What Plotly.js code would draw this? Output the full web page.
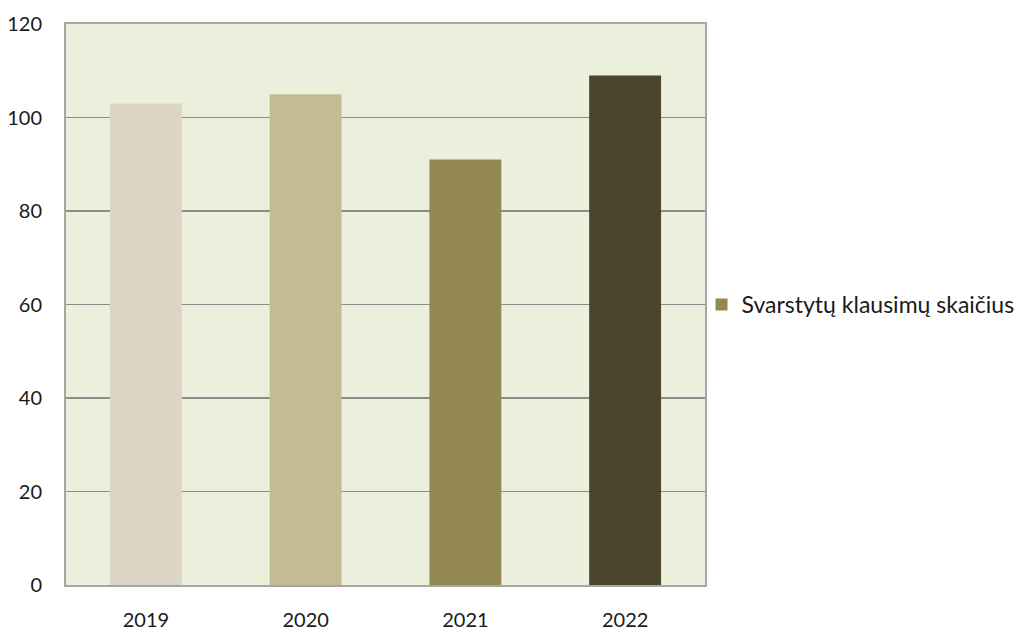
<!DOCTYPE html>
<html><head><meta charset="utf-8">
<script src="https://cdn.plot.ly/plotly-3.0.1.min.js"></script>
<style>body{margin:0;background:#fff}#c{width:1031px;height:633px}</style>
</head><body><div id="c"></div>
<script>
const years = ['2019', '2020', '2021', '2022'];
const values = [103, 105, 91, 109];
const barColors = ['#ddd5c3', '#c4bb94', '#938950', '#4a452c'];
const seriesName = 'Svarstytų klausimų skaičius';
const legendColor = '#938950';
const yTicks = [0, 20, 40, 60, 80, 100, 120];

const yFont = {family: 'Lato, sans-serif', size: 20, color: '#1a1a1a'};
const xFont = {family: 'Lato, sans-serif', size: 20, color: '#1a1a1a'};

const traces = [
  {type: 'bar', x: years, y: values, marker: {color: barColors}, width: 0.45, showlegend: false, hoverinfo: 'x+y'},
  {type: 'bar', x: [years[0]], y: [null], marker: {color: legendColor}, name: seriesName, showlegend: true}
];

const layout = {
  width: 1031, height: 633,
  margin: {l: 66, r: 325, t: 24, b: 48},
  paper_bgcolor: '#ffffff', plot_bgcolor: '#ebefdc',
  barmode: 'overlay',
  font: yFont,
  showlegend: true,
  legend: {x: 0.993, xanchor: 'left', y: 0.5, yanchor: 'middle', font: {family: 'Lato, sans-serif', size: 23, color: '#1a1a1a'}, itemwidth: 30, bgcolor: 'rgba(0,0,0,0)'},
  xaxis: {type: 'category', showline: true, linecolor: '#a6a6a6', linewidth: 2, mirror: true,
    ticks: 'outside', ticklen: 16, tickcolor: 'rgba(0,0,0,0)', showgrid: false, tickfont: xFont},
  yaxis: {range: [0, 120], tickvals: yTicks, showline: true, linecolor: '#a6a6a6', linewidth: 2, mirror: true,
    showgrid: true, gridcolor: '#8c8c8c', gridwidth: 1.5, zeroline: false,
    ticks: 'outside', ticklen: 18, tickcolor: 'rgba(0,0,0,0)', tickfont: yFont}
};

Plotly.newPlot('c', traces, layout, {displayModeBar: false, staticPlot: true});
</script>
</body></html>
